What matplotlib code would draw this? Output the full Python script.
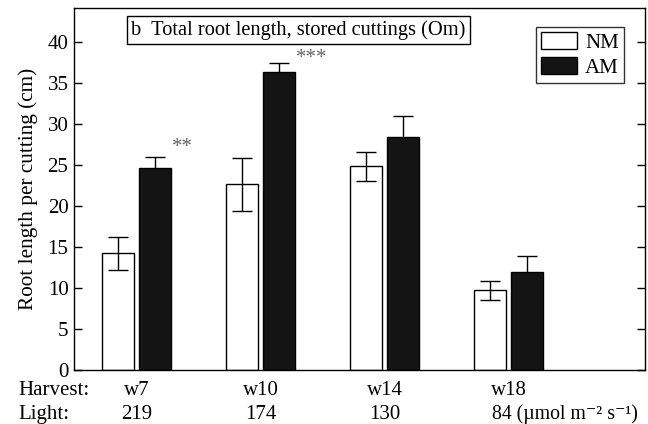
import numpy as np
import matplotlib.pyplot as plt
from matplotlib.patches import Patch

plt.rcParams['font.family'] = ['Liberation Serif', 'DejaVu Serif']

harvest = ['w7', 'w10', 'w14', 'w18']
light = ['219', '174', '130', '84']
nm_mean = [14.2, 22.6, 24.8, 9.7]
nm_err = [2.0, 3.2, 1.75, 1.15]
am_mean = [24.6, 36.3, 28.4, 11.95]
am_err = [1.3, 1.1, 2.5, 1.9]
stars = {0: ('**', 27.1), 1: ('***', 37.9)}

x = np.arange(1, len(harvest) + 1)
w = 0.258
off = 0.149
fs = 15

fig = plt.figure(figsize=(6.48, 4.24), dpi=100)
ax = fig.add_axes([74 / 648, 54 / 424, 571 / 648, 362 / 424])

ax.bar(x - off, nm_mean, w, color='white', edgecolor='black', linewidth=1, zorder=2)
ax.bar(x + off, am_mean, w, color='#141414', edgecolor='black', linewidth=1, zorder=2)
ax.errorbar(x - off, nm_mean, yerr=nm_err, fmt='none', ecolor='black',
            elinewidth=1, capsize=7.2, capthick=1, zorder=3)
ax.errorbar(x + off, am_mean, yerr=am_err, fmt='none', ecolor='black',
            elinewidth=1, capsize=7.2, capthick=1, zorder=1)

for i, (s, ypos) in stars.items():
    ax.text(x[i] + off + w / 2 + 0.005, ypos, s,
            fontsize=15, color='#666666', ha='left', va='center')

ax.set_xlim(0.496, 5.1)
ax.set_ylim(0, 44.1)
ax.set_yticks(range(0, 41, 5))
ax.set_xticks([])
ax.tick_params(axis='y', direction='in', length=6, width=1, right=True,
               labelsize=fs, pad=4)
for sp in ax.spines.values():
    sp.set_linewidth(1)
ax.set_ylabel('Root length per cutting (cm)', fontsize=15.3, labelpad=7)

ax.text(0.1, 0.967, 'b  Total root length, stored cuttings (Om)',
        transform=ax.transAxes, fontsize=14.7, ha='left', va='top',
        bbox=dict(boxstyle='square,pad=0.2', facecolor='white',
                  edgecolor='black', linewidth=1))

handles = [Patch(facecolor='white', edgecolor='black', label='NM'),
           Patch(facecolor='#141414', edgecolor='black', label='AM')]
leg = ax.legend(handles=handles, loc='upper right', bbox_to_anchor=(0.963, 0.948),
                fontsize=fs, frameon=True, fancybox=False, handlelength=1.7,
                handleheight=0.9, handletextpad=0.4, borderpad=0.25,
                labelspacing=0.2, borderaxespad=0)
leg.get_frame().set_edgecolor('black')
leg.get_frame().set_linewidth(1)

trans = ax.get_xaxis_transform()
ax.text(-0.098, -0.056, 'Harvest:', transform=ax.transAxes, fontsize=fs,
        ha='left', va='center')
ax.text(-0.098, -0.122, 'Light:', transform=ax.transAxes, fontsize=fs,
        ha='left', va='center')
for i in range(len(harvest)):
    ax.text(x[i], -0.056, harvest[i], transform=trans, fontsize=fs,
            ha='center', va='center')
for i in range(len(light) - 1):
    ax.text(x[i], -0.122, light[i], transform=trans, fontsize=fs,
            ha='center', va='center')
ax.text(x[-1] - 0.137, -0.122, light[-1] + ' (µmol m⁻² s⁻¹)', transform=trans,
        fontsize=14.2, ha='left', va='center')

fig.savefig('out.png', dpi=100)
